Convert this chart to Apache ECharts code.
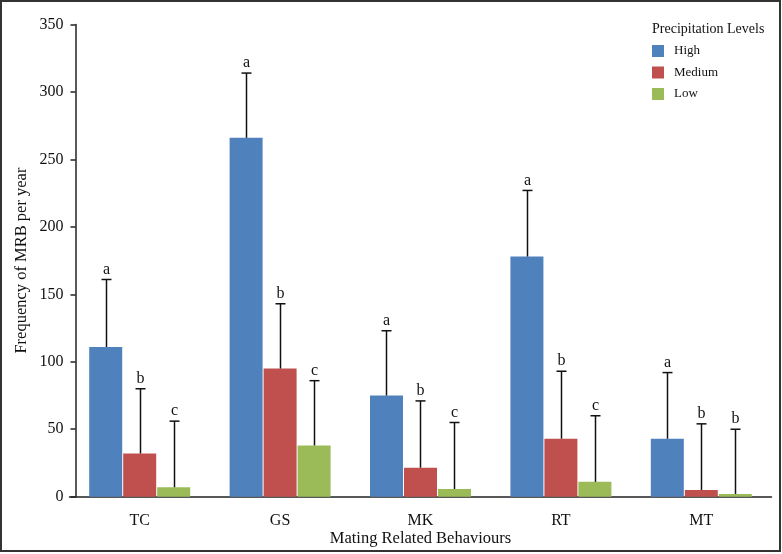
<!DOCTYPE html>
<html>
<head>
<meta charset="utf-8">
<script src="https://cdn.jsdelivr.net/npm/echarts@6/dist/echarts.min.js"></script>
<style>
html,body{margin:0;padding:0;background:#fff;}
#chart{width:782px;height:554px;}
</style>
</head>
<body>
<div id="chart"></div>
<script>
const categories = ['TC', 'GS', 'MK', 'RT', 'MT'];
const seriesNames = ['High', 'Medium', 'Low'];
const highValues = [111, 266, 75, 178, 43];
const mediumValues = [32, 95, 21.5, 43, 5];
const lowValues = [7, 38, 5.7, 11, 2];
const highErrTop = [161, 314, 123, 227, 92];
const mediumErrTop = [80, 143, 71, 93, 54];
const lowErrTop = [56, 86, 55, 60, 50];
const highLetters = ['a', 'a', 'a', 'a', 'a'];
const mediumLetters = ['b', 'b', 'b', 'b', 'b'];
const lowLetters = ['c', 'c', 'c', 'c', 'b'];
const yTicks = [0, 50, 100, 150, 200, 250, 300, 350];

const FONT = '"Liberation Serif", "Times New Roman", serif';
const colors = ['#4F81BD', '#C0504D', '#9BBB59'];
const BAR_W = 33;
const BAR_STEP = 34;
const values = [highValues, mediumValues, lowValues];
const errs = [highErrTop, mediumErrTop, lowErrTop];
const letters = [highLetters, mediumLetters, lowLetters];

const chart = echarts.init(document.getElementById('chart'), null, {renderer: 'canvas'});

function errRender(k) {
  return function (params, api) {
    const cat = api.value(0), v = api.value(1), e = api.value(2);
    const base = api.coord([cat, v]);
    const top = api.coord([cat, e]);
    const x = Math.round(base[0] + (k - 1) * BAR_STEP) + 0.5;
    const cap = 5;
    const st = {stroke: '#111', lineWidth: 1.5};
    return {
      type: 'group',
      children: [
        {type: 'line', shape: {x1: x, y1: base[1], x2: x, y2: top[1]}, style: st},
        {type: 'line', shape: {x1: x - cap, y1: top[1], x2: x + cap, y2: top[1]}, style: st},
        {type: 'text', x: x, y: top[1] - 2,
          style: {text: letters[k][params.dataIndex], textAlign: 'center', textVerticalAlign: 'bottom',
            font: '16px ' + FONT, fill: '#111'}}
      ]
    };
  };
}

const series = [];
for (let k = 0; k < 3; k++) {
  series.push({
    name: seriesNames[k],
    type: 'bar',
    data: values[k],
    barWidth: BAR_W,
    barGap: '3%',
    itemStyle: {color: colors[k]},
    z: 2
  });
}
for (let k = 0; k < 3; k++) {
  series.push({
    type: 'custom',
    renderItem: errRender(k),
    data: categories.map((c, i) => [i, values[k][i], errs[k][i]]),
    encode: {x: 0, y: [1, 2]},
    z: 5,
    silent: true
  });
}

chart.setOption({
  animation: false,
  backgroundColor: '#fff',
  textStyle: {fontFamily: FONT},
  title: {
    text: 'Precipitation Levels',
    left: 652, top: 22, padding: 0,
    textStyle: {fontFamily: FONT, fontSize: 14, fontWeight: 'normal', color: '#111'}
  },
  legend: {
    data: seriesNames,
    orient: 'vertical',
    left: 652, top: 44.5, padding: 0,
    itemWidth: 12, itemHeight: 12, itemGap: 8.5,
    icon: 'rect',
    textStyle: {fontFamily: FONT, fontSize: 13, color: '#111', padding: [0, 0, 0, 5]}
  },
  grid: {left: 69.5, right: 10.5, top: 24.5, bottom: 57.3, containLabel: false},
  xAxis: {
    type: 'category',
    data: categories,
    boundaryGap: true,
    name: 'Mating Related Behaviours',
    nameLocation: 'middle',
    nameGap: 33,
    nameMoveOverlap: false,
    nameTextStyle: {fontFamily: FONT, fontSize: 16.5, color: '#111'},
    axisLine: {lineStyle: {color: '#222', width: 1.5}},
    axisTick: {show: false},
    axisLabel: {fontFamily: FONT, fontSize: 16, color: '#111', margin: 16}
  },
  yAxis: {
    type: 'value',
    min: 0, max: 350, interval: 50,
    offset: -6,
    name: 'Frequency of MRB per year',
    nameLocation: 'middle',
    nameGap: 45,
    nameMoveOverlap: false,
    nameTextStyle: {fontFamily: FONT, fontSize: 16.5, color: '#111'},
    axisLine: {show: true, lineStyle: {color: '#222', width: 1.5}},
    axisTick: {show: true, length: 5, lineStyle: {color: '#222', width: 1.5}},
    splitLine: {show: false},
    axisLabel: {fontFamily: FONT, fontSize: 16, color: '#111', margin: 12,
      formatter: v => (yTicks.indexOf(v) >= 0 ? String(v) : '')}
  },
  graphic: [{
    type: 'rect', z: 100, silent: true,
    shape: {x: 1, y: 1, width: 779, height: 550},
    style: {fill: 'none', stroke: '#333', lineWidth: 2}
  }],
  series: series
});
</script>
</body>
</html>
